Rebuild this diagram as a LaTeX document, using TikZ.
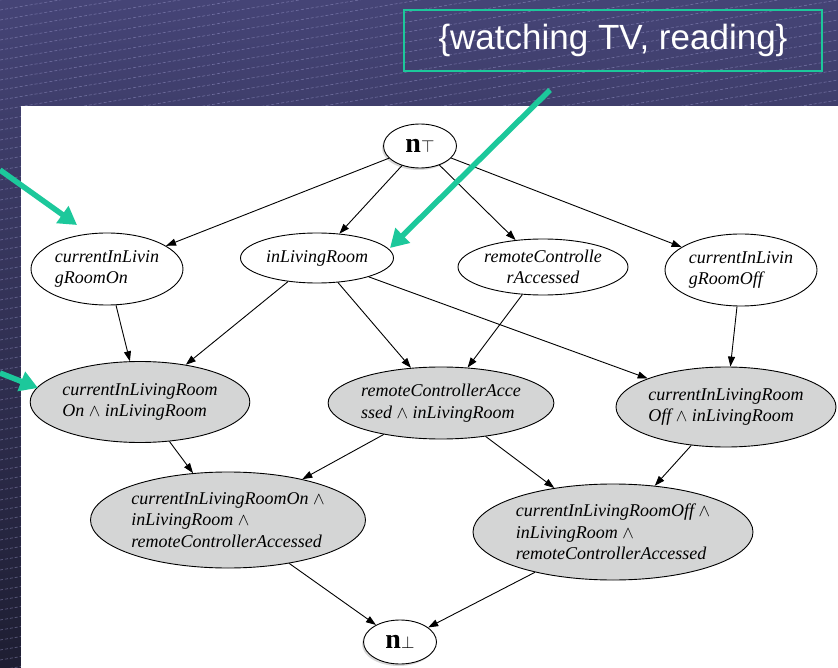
\documentclass[tikz,border=0pt]{standalone}
\usepackage{fontspec}
\setmainfont{Liberation Serif}
\newfontfamily\boxfont{Liberation Sans}
\usetikzlibrary{shapes.geometric,arrows.meta,shadows}
\definecolor{bgtop}{RGB}{69,68,118}
\definecolor{bgbot}{RGB}{30,30,50}
\definecolor{stripe}{RGB}{160,158,210}
\definecolor{tealmark}{RGB}{28,200,155}
\definecolor{meetgray}{RGB}{212,213,213}
\tikzset{
  concept/.style={ellipse, draw, line width=0.9pt, fill=white, inner sep=0pt,
    font=\fontsize{18}{21.5}\selectfont\itshape, align=left},
  meet/.style={concept, fill=meetgray},
  bound/.style={ellipse, draw, line width=0.9pt, fill=white, inner sep=0pt,
    minimum width=73pt, minimum height=44pt, font=\fontsize{28}{28}\selectfont\bfseries,
    drop shadow={shadow xshift=-1.5pt, shadow yshift=-2pt, opacity=0.3}},
  lattarrow/.style={-{Triangle[length=10pt,width=7pt]}, line width=0.9pt},
  hint/.style={-{Triangle[length=18pt,width=20pt]}, line width=5.5pt, draw=tealmark}
}
\begin{document}
\begin{tikzpicture}[x=1pt,y=-1pt]
    \useasboundingbox (0,0) rectangle (838,668);
    % slide backdrop
    \shade[top color=bgtop, bottom color=bgbot] (0,0) rectangle (838,668);
    \begin{scope}
        \clip (0,0) rectangle (838,668);
        \foreach \c in {0,10,...,820}
            \draw[stripe, opacity=0.5, line width=0.6pt, dash pattern=on 3pt off 2pt] (0,\c) -- (838,\c-140);
    \end{scope}
    \fill[white] (21,106) rectangle (838,668);
    % lattice
    \node[bound] (top) at (420,146) {n{\fontsize{18}{18}\selectfont$\top$}};
    \node[concept, minimum width=152pt, minimum height=72pt] (onroom) at (107,269) {currentInLivin\\gRoomOn};
    \node[concept, minimum width=153pt, minimum height=50pt] (inroom) at (317,258) {inLivingRoom};
    \node[concept, align=center, minimum width=170pt, minimum height=56pt] (remote) at (543,267) {remoteControlle\\rAccessed};
    \node[concept, minimum width=152pt, minimum height=72pt] (offroom) at (741,270) {currentInLivin\\gRoomOff};
    \node[meet, minimum width=219pt, minimum height=81pt] (onmeet) at (140,402) {currentInLivingRoom\\On $\wedge$ inLivingRoom};
    \node[meet, minimum width=219pt, minimum height=72pt] (remmeet) at (441,403) {remoteControllerAcce\\ssed $\wedge$ inLivingRoom};
    \node[meet, minimum width=220pt, minimum height=80pt] (offmeet) at (726,407) {currentInLivingRoom\\Off $\wedge$ inLivingRoom};
    \node[meet, minimum width=275pt, minimum height=96pt] (onall) at (228,520) {currentInLivingRoomOn $\wedge$\\inLivingRoom $\wedge$\\remoteControllerAccessed};
    \node[meet, minimum width=280pt, minimum height=96pt] (offall) at (613,532) {currentInLivingRoomOff $\wedge$\\inLivingRoom $\wedge$\\remoteControllerAccessed};
    \node[bound] (bot) at (400,642) {n{\fontsize{18}{18}\selectfont$\bot$}};
    \foreach \t in {onroom,inroom,remote,offroom}
        \draw[lattarrow] (top) -- (\t);
    \foreach \t in {onmeet,remmeet,offmeet}
        \draw[lattarrow] (inroom) -- (\t);
    \draw[lattarrow] (onroom) -- (onmeet);
    \draw[lattarrow] (remote) -- (remmeet);
    \draw[lattarrow] (offroom) -- (offmeet);
    \draw[lattarrow] (onmeet) -- (onall);
    \draw[lattarrow] (remmeet) -- (onall);
    \draw[lattarrow] (remmeet) -- (offall);
    \draw[lattarrow] (offmeet) -- (offall);
    \draw[lattarrow] (onall) -- (bot);
    \draw[lattarrow] (offall) -- (bot);
    % annotations
    \node[draw=tealmark, line width=2pt, minimum width=418pt, minimum height=61pt, text=white,
        font=\boxfont\fontsize{35}{35}\selectfont] (acts) at (613,40.5) {\{watching TV, reading\}};
    \coordinate (p1) at (0,170);
    \coordinate (q1) at (77,225);
    \coordinate (p2) at (0,373);
    \coordinate (q2) at (38,388);
    \coordinate (p3) at (550,90);
    \coordinate (q3) at (390,248);
    \draw[hint] (p1) -- (q1);
    \draw[hint] (p2) -- (q2);
    \draw[hint] (p3) -- (q3);
\end{tikzpicture}
\end{document}
